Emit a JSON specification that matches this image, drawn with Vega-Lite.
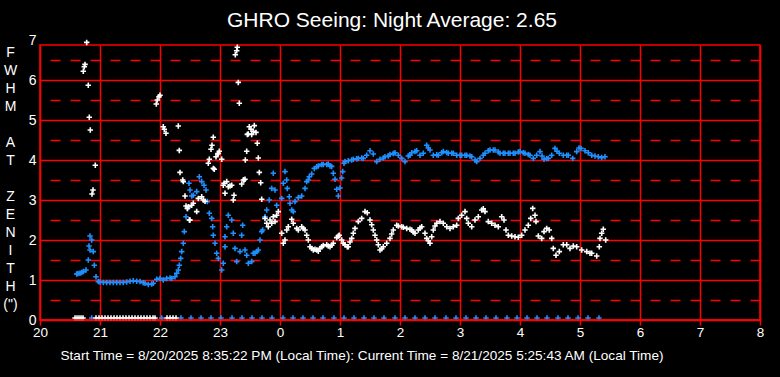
{
  "$schema": "https://vega.github.io/schema/vega-lite/v6.json",
  "autosize": {"type": "none"},
  "padding": {"left": 40, "top": 45, "right": 20, "bottom": 57},
  "width": 720,
  "height": 275,
  "background": "#000000",
  "config": {"view": {"stroke": "#ff0000", "strokeWidth": 1.5}},
  "title": {"text": "GHRO Seeing: Night Average: 2.65", "color": "#ffffff", "fontSize": 21, "font": "Liberation Sans", "fontWeight": "normal", "anchor": "middle", "frame": "group", "dx": -8, "dy": 32, "baseline": "alphabetic", "offset": 17},
  "data": {"values": [
    {"m":36.7,"v":1.15,"s":"b"},{"m":38,"v":1.16,"s":"b"},{"m":40,"v":1.17,"s":"b"},{"m":41.7,"v":1.19,"s":"b"},{"m":43.3,"v":1.21,"s":"b"},{"m":46,"v":1.25,"s":"b"},{"m":48.3,"v":1.5,"s":"b"},{"m":49,"v":1.85,"s":"b"},{"m":50,"v":2.1,"s":"b"},{"m":50,"v":1.75,"s":"b"},{"m":51.7,"v":2.0,"s":"b"},{"m":53.3,"v":1.71,"s":"b"},{"m":54.3,"v":1.37,"s":"b"},{"m":56,"v":1.08,"s":"b"},{"m":58.3,"v":0.96,"s":"b"},{"m":60,"v":0.95,"s":"b"},{"m":63.3,"v":0.94,"s":"b"},{"m":66.7,"v":0.94,"s":"b"},{"m":70,"v":0.94,"s":"b"},{"m":73.3,"v":0.94,"s":"b"},{"m":76.7,"v":0.94,"s":"b"},{"m":80,"v":0.94,"s":"b"},{"m":83.3,"v":0.94,"s":"b"},{"m":86.7,"v":0.95,"s":"b"},{"m":90,"v":0.97,"s":"b"},{"m":93.3,"v":0.98,"s":"b"},{"m":96.7,"v":0.97,"s":"b"},{"m":100,"v":0.96,"s":"b"},{"m":103.3,"v":0.93,"s":"b"},{"m":105,"v":0.92,"s":"b"},{"m":108.3,"v":0.89,"s":"b"},{"m":111.7,"v":0.9,"s":"b"},{"m":113.3,"v":0.92,"s":"b"},{"m":116.7,"v":1.02,"s":"b"},{"m":120,"v":1.04,"s":"b"},{"m":123.3,"v":1.0,"s":"b"},{"m":126.7,"v":1.04,"s":"b"},{"m":130,"v":1.05,"s":"b"},{"m":131.7,"v":1.04,"s":"b"},{"m":135,"v":1.08,"s":"b"},{"m":136.7,"v":1.17,"s":"b"},{"m":138.3,"v":1.25,"s":"b"},{"m":139.3,"v":1.37,"s":"b"},{"m":140.7,"v":1.54,"s":"b"},{"m":141.7,"v":1.71,"s":"b"},{"m":143.3,"v":1.92,"s":"b"},{"m":144.3,"v":2.21,"s":"b"},{"m":146,"v":2.58,"s":"b"},{"m":147.7,"v":2.79,"s":"b"},{"m":149,"v":3.42,"s":"b"},{"m":150,"v":3.25,"s":"b"},{"m":151.7,"v":3.1,"s":"b"},{"m":153.3,"v":3.12,"s":"b"},{"m":156.7,"v":3.21,"s":"b"},{"m":159.3,"v":3.58,"s":"b"},{"m":161.7,"v":3.46,"s":"b"},{"m":164,"v":3.37,"s":"b"},{"m":166,"v":3.25,"s":"b"},{"m":167.3,"v":2.96,"s":"b"},{"m":169.3,"v":2.67,"s":"b"},{"m":171.7,"v":2.54,"s":"b"},{"m":172.7,"v":2.33,"s":"b"},{"m":173.3,"v":2.12,"s":"b"},{"m":175,"v":1.92,"s":"b"},{"m":176.7,"v":1.67,"s":"b"},{"m":178.3,"v":1.54,"s":"b"},{"m":181.7,"v":1.25,"s":"b"},{"m":183.3,"v":1.42,"s":"b"},{"m":185,"v":1.83,"s":"b"},{"m":185,"v":2.08,"s":"b"},{"m":186.7,"v":2.33,"s":"b"},{"m":188.3,"v":2.62,"s":"b"},{"m":191.7,"v":2.5,"s":"b"},{"m":193.3,"v":2.17,"s":"b"},{"m":195,"v":1.79,"s":"b"},{"m":196.7,"v":1.46,"s":"b"},{"m":200,"v":1.71,"s":"b"},{"m":201.7,"v":2.12,"s":"b"},{"m":202.7,"v":2.37,"s":"b"},{"m":205,"v":1.75,"s":"b"},{"m":206.7,"v":1.62,"s":"b"},{"m":208.3,"v":1.42,"s":"b"},{"m":211.7,"v":1.46,"s":"b"},{"m":213.3,"v":1.67,"s":"b"},{"m":215,"v":1.67,"s":"b"},{"m":216.7,"v":1.71,"s":"b"},{"m":218.3,"v":1.75,"s":"b"},{"m":220,"v":2.0,"s":"b"},{"m":221.7,"v":2.21,"s":"b"},{"m":222.7,"v":2.25,"s":"b"},{"m":225,"v":2.58,"s":"b"},{"m":226.7,"v":2.75,"s":"b"},{"m":229.3,"v":3.0,"s":"b"},{"m":231.7,"v":3.29,"s":"b"},{"m":233.3,"v":3.67,"s":"b"},{"m":235,"v":3.25,"s":"b"},{"m":236.7,"v":2.87,"s":"b"},{"m":241.7,"v":3.04,"s":"b"},{"m":243.3,"v":3.42,"s":"b"},{"m":245,"v":3.71,"s":"b"},{"m":246.7,"v":3.5,"s":"b"},{"m":247.3,"v":3.29,"s":"b"},{"m":249.3,"v":3.08,"s":"b"},{"m":250,"v":2.92,"s":"b"},{"m":251.7,"v":2.75,"s":"b"},{"m":253.3,"v":2.71,"s":"b"},{"m":255,"v":2.96,"s":"b"},{"m":258.3,"v":3.06,"s":"b"},{"m":261.7,"v":3.1,"s":"b"},{"m":265,"v":3.29,"s":"b"},{"m":266.7,"v":3.46,"s":"b"},{"m":268.3,"v":3.5,"s":"b"},{"m":269.3,"v":3.58,"s":"b"},{"m":271.7,"v":3.65,"s":"b"},{"m":274.3,"v":3.79,"s":"b"},{"m":276.7,"v":3.83,"s":"b"},{"m":278.3,"v":3.85,"s":"b"},{"m":281.7,"v":3.89,"s":"b"},{"m":283.3,"v":3.89,"s":"b"},{"m":286.7,"v":3.89,"s":"b"},{"m":288.3,"v":3.9,"s":"b"},{"m":290,"v":3.85,"s":"b"},{"m":291.7,"v":3.84,"s":"b"},{"m":293.3,"v":3.67,"s":"b"},{"m":295,"v":3.52,"s":"b"},{"m":296.7,"v":3.27,"s":"b"},{"m":298.3,"v":3.1,"s":"b"},{"m":300,"v":3.3,"s":"b"},{"m":301.7,"v":3.55,"s":"b"},{"m":302.7,"v":3.71,"s":"b"},{"m":304,"v":3.92,"s":"b"},{"m":305,"v":3.96,"s":"b"},{"m":308.3,"v":3.98,"s":"b"},{"m":311.7,"v":4.0,"s":"b"},{"m":313.3,"v":4.02,"s":"b"},{"m":316.7,"v":4.03,"s":"b"},{"m":318.3,"v":4.04,"s":"b"},{"m":321.7,"v":4.05,"s":"b"},{"m":323.3,"v":4.04,"s":"b"},{"m":326.7,"v":4.12,"s":"b"},{"m":330,"v":4.23,"s":"b"},{"m":333.3,"v":4.15,"s":"b"},{"m":336.7,"v":3.96,"s":"b"},{"m":340,"v":4.02,"s":"b"},{"m":343.3,"v":4.05,"s":"b"},{"m":345,"v":4.08,"s":"b"},{"m":348.3,"v":4.1,"s":"b"},{"m":350,"v":4.14,"s":"b"},{"m":353.3,"v":4.16,"s":"b"},{"m":355,"v":4.18,"s":"b"},{"m":358.3,"v":4.12,"s":"b"},{"m":361.7,"v":4.04,"s":"b"},{"m":365,"v":3.96,"s":"b"},{"m":368.3,"v":4.1,"s":"b"},{"m":370,"v":4.12,"s":"b"},{"m":371.7,"v":4.18,"s":"b"},{"m":375,"v":4.21,"s":"b"},{"m":376.7,"v":4.23,"s":"b"},{"m":380,"v":4.12,"s":"b"},{"m":383.3,"v":4.17,"s":"b"},{"m":386.7,"v":4.37,"s":"b"},{"m":388.3,"v":4.3,"s":"b"},{"m":390,"v":4.25,"s":"b"},{"m":393.3,"v":4.12,"s":"b"},{"m":396.7,"v":4.13,"s":"b"},{"m":398.3,"v":4.12,"s":"b"},{"m":401.7,"v":4.18,"s":"b"},{"m":403.3,"v":4.21,"s":"b"},{"m":406.7,"v":4.19,"s":"b"},{"m":408.3,"v":4.17,"s":"b"},{"m":411.7,"v":4.17,"s":"b"},{"m":413.3,"v":4.17,"s":"b"},{"m":416.7,"v":4.12,"s":"b"},{"m":420,"v":4.12,"s":"b"},{"m":421.7,"v":4.12,"s":"b"},{"m":425,"v":4.12,"s":"b"},{"m":426.7,"v":4.12,"s":"b"},{"m":430,"v":4.1,"s":"b"},{"m":431.7,"v":4.08,"s":"b"},{"m":435,"v":4.0,"s":"b"},{"m":436.7,"v":3.96,"s":"b"},{"m":440,"v":4.04,"s":"b"},{"m":443.3,"v":4.12,"s":"b"},{"m":445,"v":4.17,"s":"b"},{"m":448.3,"v":4.23,"s":"b"},{"m":450,"v":4.25,"s":"b"},{"m":453.3,"v":4.25,"s":"b"},{"m":455,"v":4.25,"s":"b"},{"m":458.3,"v":4.2,"s":"b"},{"m":460,"v":4.17,"s":"b"},{"m":463.3,"v":4.17,"s":"b"},{"m":465,"v":4.17,"s":"b"},{"m":468.3,"v":4.17,"s":"b"},{"m":470,"v":4.17,"s":"b"},{"m":473.3,"v":4.17,"s":"b"},{"m":475,"v":4.17,"s":"b"},{"m":478.3,"v":4.2,"s":"b"},{"m":480,"v":4.21,"s":"b"},{"m":483.3,"v":4.18,"s":"b"},{"m":485,"v":4.17,"s":"b"},{"m":488.3,"v":4.14,"s":"b"},{"m":490,"v":4.12,"s":"b"},{"m":493.3,"v":4.04,"s":"b"},{"m":496.7,"v":4.12,"s":"b"},{"m":500,"v":4.21,"s":"b"},{"m":502,"v":4.1,"s":"b"},{"m":504,"v":4.02,"s":"b"},{"m":506.7,"v":4.04,"s":"b"},{"m":508.3,"v":4.04,"s":"b"},{"m":511.7,"v":4.12,"s":"b"},{"m":515,"v":4.29,"s":"b"},{"m":517,"v":4.22,"s":"b"},{"m":519.3,"v":4.17,"s":"b"},{"m":523.3,"v":4.12,"s":"b"},{"m":526.7,"v":4.12,"s":"b"},{"m":528.3,"v":4.12,"s":"b"},{"m":532.7,"v":4.04,"s":"b"},{"m":536.7,"v":4.21,"s":"b"},{"m":539,"v":4.3,"s":"b"},{"m":541,"v":4.29,"s":"b"},{"m":545,"v":4.23,"s":"b"},{"m":548.3,"v":4.18,"s":"b"},{"m":551.7,"v":4.12,"s":"b"},{"m":555,"v":4.1,"s":"b"},{"m":558.3,"v":4.08,"s":"b"},{"m":561.7,"v":4.06,"s":"b"},{"m":565,"v":4.08,"s":"b"},
    {"m":51.7,"v":0.05,"s":"b"},{"m":121.7,"v":0.05,"s":"b"},{"m":141,"v":0.05,"s":"b"},{"m":151,"v":0.05,"s":"b"},{"m":161,"v":0.05,"s":"b"},{"m":171,"v":0.05,"s":"b"},{"m":181,"v":0.05,"s":"b"},{"m":192,"v":0.05,"s":"b"},{"m":202,"v":0.05,"s":"b"},{"m":212,"v":0.05,"s":"b"},{"m":222,"v":0.05,"s":"b"},{"m":232,"v":0.05,"s":"b"},{"m":243,"v":0.05,"s":"b"},{"m":253,"v":0.05,"s":"b"},{"m":263,"v":0.05,"s":"b"},{"m":273,"v":0.05,"s":"b"},{"m":283,"v":0.05,"s":"b"},{"m":294,"v":0.05,"s":"b"},{"m":304,"v":0.05,"s":"b"},{"m":314,"v":0.05,"s":"b"},{"m":324,"v":0.05,"s":"b"},{"m":334,"v":0.05,"s":"b"},{"m":344,"v":0.05,"s":"b"},{"m":355,"v":0.05,"s":"b"},{"m":365,"v":0.05,"s":"b"},{"m":375,"v":0.05,"s":"b"},{"m":385,"v":0.05,"s":"b"},{"m":395,"v":0.05,"s":"b"},{"m":406,"v":0.05,"s":"b"},{"m":416,"v":0.05,"s":"b"},{"m":426,"v":0.05,"s":"b"},{"m":436,"v":0.05,"s":"b"},{"m":446,"v":0.05,"s":"b"},{"m":456,"v":0.05,"s":"b"},{"m":467,"v":0.05,"s":"b"},{"m":477,"v":0.05,"s":"b"},{"m":487,"v":0.05,"s":"b"},{"m":497,"v":0.05,"s":"b"},{"m":507,"v":0.05,"s":"b"},{"m":518,"v":0.05,"s":"b"},{"m":528,"v":0.05,"s":"b"},{"m":538,"v":0.05,"s":"b"},{"m":548,"v":0.05,"s":"b"},{"m":559,"v":0.05,"s":"b"},
    {"m":35,"v":0.05,"s":"w"},{"m":37,"v":0.05,"s":"w"},{"m":39,"v":0.05,"s":"w"},{"m":41,"v":0.05,"s":"w"},{"m":43,"v":0.05,"s":"w"},{"m":56,"v":0.05,"s":"w"},{"m":59,"v":0.05,"s":"w"},{"m":62,"v":0.05,"s":"w"},{"m":65,"v":0.05,"s":"w"},{"m":68,"v":0.05,"s":"w"},{"m":71,"v":0.05,"s":"w"},{"m":74,"v":0.05,"s":"w"},{"m":77,"v":0.05,"s":"w"},{"m":80,"v":0.05,"s":"w"},{"m":83,"v":0.05,"s":"w"},{"m":86,"v":0.05,"s":"w"},{"m":89,"v":0.05,"s":"w"},{"m":92,"v":0.05,"s":"w"},{"m":95,"v":0.05,"s":"w"},{"m":98,"v":0.05,"s":"w"},{"m":101,"v":0.05,"s":"w"},{"m":104,"v":0.05,"s":"w"},{"m":107,"v":0.05,"s":"w"},{"m":110,"v":0.05,"s":"w"},{"m":113,"v":0.05,"s":"w"},{"m":115,"v":0.05,"s":"w"},{"m":127,"v":0.05,"s":"w"},{"m":130,"v":0.05,"s":"w"},{"m":133,"v":0.05,"s":"w"},{"m":136,"v":0.05,"s":"w"},
    {"m":43.3,"v":6.22,"s":"w"},{"m":44.3,"v":6.33,"s":"w"},{"m":45,"v":6.39,"s":"w"},{"m":46.7,"v":6.94,"s":"w"},{"m":48.3,"v":5.87,"s":"w"},{"m":49.3,"v":5.07,"s":"w"},{"m":50.3,"v":4.75,"s":"w"},{"m":52,"v":3.15,"s":"w"},{"m":53,"v":3.25,"s":"w"},{"m":55.3,"v":3.87,"s":"w"},{"m":116.3,"v":5.4,"s":"w"},{"m":117.3,"v":5.5,"s":"w"},{"m":119,"v":5.58,"s":"w"},{"m":120,"v":5.62,"s":"w"},{"m":123.3,"v":4.83,"s":"w"},{"m":124.3,"v":4.77,"s":"w"},{"m":126,"v":4.67,"s":"w"},{"m":138.3,"v":4.85,"s":"w"},{"m":139.3,"v":4.24,"s":"w"},{"m":140,"v":3.69,"s":"w"},{"m":142.7,"v":3.5,"s":"w"},{"m":143.3,"v":3.46,"s":"w"},{"m":145,"v":3.1,"s":"w"},{"m":146,"v":2.85,"s":"w"},{"m":147.3,"v":2.79,"s":"w"},{"m":148.3,"v":2.83,"s":"w"},{"m":149.3,"v":2.5,"s":"w"},{"m":150,"v":2.5,"s":"w"},{"m":151.7,"v":2.87,"s":"w"},{"m":153.3,"v":2.92,"s":"w"},{"m":156.7,"v":2.71,"s":"w"},{"m":158.3,"v":3.04,"s":"w"},{"m":161.7,"v":3.08,"s":"w"},{"m":163.3,"v":3.0,"s":"w"},{"m":165,"v":2.97,"s":"w"},{"m":168.3,"v":3.92,"s":"w"},{"m":169.3,"v":4.02,"s":"w"},{"m":171,"v":4.27,"s":"w"},{"m":172,"v":4.37,"s":"w"},{"m":173.3,"v":4.57,"s":"w"},{"m":173.3,"v":3.79,"s":"w"},{"m":174.3,"v":3.77,"s":"w"},{"m":176,"v":4.08,"s":"w"},{"m":177.7,"v":4.15,"s":"w"},{"m":178.3,"v":4.17,"s":"w"},{"m":179.3,"v":4.22,"s":"w"},{"m":181.7,"v":4.02,"s":"w"},{"m":183.3,"v":3.37,"s":"w"},{"m":184,"v":3.42,"s":"w"},{"m":185,"v":3.17,"s":"w"},{"m":186.7,"v":3.46,"s":"w"},{"m":188.3,"v":3.33,"s":"w"},{"m":190,"v":3.35,"s":"w"},{"m":191.7,"v":3.37,"s":"w"},{"m":193.3,"v":3.0,"s":"w"},{"m":194,"v":3.12,"s":"w"},{"m":195.3,"v":6.63,"s":"w"},{"m":196.7,"v":6.73,"s":"w"},{"m":197.3,"v":6.82,"s":"w"},{"m":198.3,"v":5.94,"s":"w"},{"m":199.3,"v":5.42,"s":"w"},{"m":201.7,"v":3.4,"s":"w"},{"m":203.3,"v":3.5,"s":"w"},{"m":204,"v":3.5,"s":"w"},{"m":205,"v":3.52,"s":"w"},{"m":205.3,"v":4.0,"s":"w"},{"m":206.7,"v":4.22,"s":"w"},{"m":207.3,"v":4.64,"s":"w"},{"m":208.3,"v":4.65,"s":"w"},{"m":209.3,"v":4.83,"s":"w"},{"m":211,"v":4.77,"s":"w"},{"m":211.7,"v":4.64,"s":"w"},{"m":213.3,"v":4.72,"s":"w"},{"m":214.3,"v":4.86,"s":"w"},{"m":216,"v":4.69,"s":"w"},{"m":217.3,"v":4.42,"s":"w"},{"m":218.3,"v":4.05,"s":"w"},{"m":219.3,"v":3.69,"s":"w"},{"m":220.7,"v":3.43,"s":"w"},{"m":221.7,"v":3.02,"s":"w"},{"m":225,"v":2.54,"s":"w"},{"m":226.7,"v":2.42,"s":"w"},{"m":228.3,"v":2.33,"s":"w"},{"m":230,"v":2.5,"s":"w"},{"m":231.7,"v":2.42,"s":"w"},{"m":233.3,"v":2.58,"s":"w"},{"m":235,"v":2.46,"s":"w"},{"m":236.7,"v":2.62,"s":"w"},{"m":238.3,"v":2.71,"s":"w"},{"m":241.7,"v":2.17,"s":"w"},{"m":243.3,"v":1.92,"s":"w"},{"m":245,"v":2.0,"s":"w"},{"m":246.7,"v":2.25,"s":"w"},{"m":248.3,"v":2.33,"s":"w"},{"m":251.7,"v":2.52,"s":"w"},{"m":253.3,"v":2.42,"s":"w"},{"m":256.7,"v":2.29,"s":"w"},{"m":258.3,"v":2.25,"s":"w"},{"m":261.7,"v":2.33,"s":"w"},{"m":263.3,"v":2.29,"s":"w"},{"m":265,"v":2.25,"s":"w"},{"m":266.7,"v":2.12,"s":"w"},{"m":268.3,"v":2.0,"s":"w"},{"m":270,"v":1.83,"s":"w"},{"m":271.7,"v":1.79,"s":"w"},{"m":273.3,"v":1.75,"s":"w"},{"m":275,"v":1.77,"s":"w"},{"m":276.7,"v":1.75,"s":"w"},{"m":278.3,"v":1.72,"s":"w"},{"m":280,"v":1.79,"s":"w"},{"m":281.7,"v":1.83,"s":"w"},{"m":283.3,"v":1.86,"s":"w"},{"m":286.7,"v":1.88,"s":"w"},{"m":288.3,"v":1.85,"s":"w"},{"m":290,"v":1.83,"s":"w"},{"m":291.7,"v":1.87,"s":"w"},{"m":293.3,"v":1.92,"s":"w"},{"m":296.7,"v":2.06,"s":"w"},{"m":298.3,"v":2.1,"s":"w"},{"m":299.3,"v":2.12,"s":"w"},{"m":301.7,"v":2.0,"s":"w"},{"m":303.3,"v":1.92,"s":"w"},{"m":305,"v":1.88,"s":"w"},{"m":307.3,"v":1.83,"s":"w"},{"m":308.3,"v":1.83,"s":"w"},{"m":310,"v":1.95,"s":"w"},{"m":311.7,"v":2.04,"s":"w"},{"m":313.3,"v":2.17,"s":"w"},{"m":315,"v":2.29,"s":"w"},{"m":318.3,"v":2.46,"s":"w"},{"m":321.7,"v":2.54,"s":"w"},{"m":325,"v":2.71,"s":"w"},{"m":327.3,"v":2.68,"s":"w"},{"m":330,"v":2.5,"s":"w"},{"m":331.7,"v":2.38,"s":"w"},{"m":333.3,"v":2.25,"s":"w"},{"m":335,"v":2.12,"s":"w"},{"m":336.7,"v":2.0,"s":"w"},{"m":338.3,"v":1.88,"s":"w"},{"m":340,"v":1.75,"s":"w"},{"m":341.7,"v":1.78,"s":"w"},{"m":343.3,"v":1.83,"s":"w"},{"m":346.7,"v":1.92,"s":"w"},{"m":350,"v":2.04,"s":"w"},{"m":351.7,"v":2.15,"s":"w"},{"m":353.3,"v":2.25,"s":"w"},{"m":356.7,"v":2.37,"s":"w"},{"m":358.3,"v":2.35,"s":"w"},{"m":361.7,"v":2.33,"s":"w"},{"m":363.3,"v":2.32,"s":"w"},{"m":366.7,"v":2.29,"s":"w"},{"m":370,"v":2.27,"s":"w"},{"m":371.7,"v":2.25,"s":"w"},{"m":373.3,"v":2.2,"s":"w"},{"m":375,"v":2.17,"s":"w"},{"m":378.3,"v":2.25,"s":"w"},{"m":380,"v":2.3,"s":"w"},{"m":381.7,"v":2.33,"s":"w"},{"m":385,"v":2.17,"s":"w"},{"m":386.7,"v":2.04,"s":"w"},{"m":388.3,"v":1.98,"s":"w"},{"m":390,"v":1.92,"s":"w"},{"m":391.7,"v":2.08,"s":"w"},{"m":393.3,"v":2.25,"s":"w"},{"m":395,"v":2.35,"s":"w"},{"m":396.7,"v":2.42,"s":"w"},{"m":400,"v":2.46,"s":"w"},{"m":403.3,"v":2.42,"s":"w"},{"m":406.7,"v":2.33,"s":"w"},{"m":410,"v":2.29,"s":"w"},{"m":413.3,"v":2.33,"s":"w"},{"m":416.7,"v":2.37,"s":"w"},{"m":418.3,"v":2.54,"s":"w"},{"m":421.7,"v":2.62,"s":"w"},{"m":425,"v":2.71,"s":"w"},{"m":426.7,"v":2.54,"s":"w"},{"m":428.3,"v":2.42,"s":"w"},{"m":431.7,"v":2.33,"s":"w"},{"m":435,"v":2.5,"s":"w"},{"m":438.3,"v":2.58,"s":"w"},{"m":441.7,"v":2.75,"s":"w"},{"m":443.3,"v":2.78,"s":"w"},{"m":445,"v":2.71,"s":"w"},{"m":448.3,"v":2.46,"s":"w"},{"m":451.7,"v":2.42,"s":"w"},{"m":455,"v":2.37,"s":"w"},{"m":458.3,"v":2.33,"s":"w"},{"m":461.7,"v":2.58,"s":"w"},{"m":464,"v":2.5,"s":"w"},{"m":466,"v":2.25,"s":"w"},{"m":468.3,"v":2.12,"s":"w"},{"m":471.7,"v":2.1,"s":"w"},{"m":475,"v":2.08,"s":"w"},{"m":478.3,"v":2.07,"s":"w"},{"m":481.7,"v":2.12,"s":"w"},{"m":485,"v":2.25,"s":"w"},{"m":488.3,"v":2.37,"s":"w"},{"m":490.7,"v":2.54,"s":"w"},{"m":492.7,"v":2.79,"s":"w"},{"m":495,"v":2.62,"s":"w"},{"m":496,"v":2.46,"s":"w"},{"m":498.3,"v":2.1,"s":"w"},{"m":501.7,"v":2.04,"s":"w"},{"m":504,"v":2.21,"s":"w"},{"m":506.7,"v":2.29,"s":"w"},{"m":509.3,"v":2.25,"s":"w"},{"m":511.7,"v":2.04,"s":"w"},{"m":513.3,"v":1.79,"s":"w"},{"m":516,"v":1.62,"s":"w"},{"m":519.3,"v":1.71,"s":"w"},{"m":523.3,"v":1.88,"s":"w"},{"m":526.7,"v":1.88,"s":"w"},{"m":530,"v":1.79,"s":"w"},{"m":533.3,"v":1.85,"s":"w"},{"m":536.7,"v":1.83,"s":"w"},{"m":541.7,"v":1.75,"s":"w"},{"m":546.7,"v":1.71,"s":"w"},{"m":550,"v":1.67,"s":"w"},{"m":551.7,"v":1.67,"s":"w"},{"m":556.7,"v":1.6,"s":"w"},{"m":559.3,"v":1.83,"s":"w"},{"m":560,"v":2.04,"s":"w"},{"m":561.7,"v":2.17,"s":"w"},{"m":563.3,"v":2.27,"s":"w"},{"m":565.7,"v":2.0,"s":"w"}
  ]},
  "layer": [
    {
      "mark": {"type": "point", "shape": "M-1,0H1M0,-1V1", "filled": false, "size": 30, "strokeWidth": 1.6, "opacity": 1},
      "encoding": {
        "x": {"field": "m", "type": "quantitative", "scale": {"domain": [0, 720], "nice": false, "zero": false},
          "axis": {"values": [0,60,120,180,240,300,360,420,480,540,600,660,720], "labelExpr": "format((20 + datum.value / 60) % 24, 'd')",
            "grid": true, "gridColor": "#ff0000", "gridWidth": 1.5, "gridOpacity": 1, "domain": false, "ticks": false, "tickSize": 0, "labelPadding": 5,
            "labelColor": "#ffffff", "labelFont": "Liberation Sans", "labelFontSize": 13.5, "labelOverlap": false, "labelFlush": false, "labelBound": false,
            "title": "Start Time = 8/20/2025 8:35:22 PM (Local Time): Current Time = 8/21/2025 5:25:43 AM (Local Time)",
            "titleColor": "#ffffff", "titleFont": "Liberation Sans", "titleFontSize": 13.6, "titleFontWeight": "normal", "titleX": 321.5, "titleY": 35, "titleAlign": "center", "titleBaseline": "middle"}},
        "y": {"field": "v", "type": "quantitative", "scale": {"domain": [0, 7], "range": [275, -5], "nice": false, "zero": true},
          "axis": {"values": [0,1,2,3,4,5,6,7], "format": "d",
            "grid": true, "gridColor": "#ff0000", "gridWidth": 1.5,
            "gridOpacity": {"condition": {"test": "datum.value > 6.9", "value": 0}, "value": 1},
            "domain": false, "ticks": false, "tickSize": 0, "labelPadding": 4,
            "labelColor": "#ffffff", "labelFont": "Liberation Sans", "labelFontSize": 14, "labelOverlap": false, "labelFlush": false, "labelBound": false,
            "title": ["F", "W", "H", "M", "\u200b", "A", "T", "\u200b", "Z", "E", "N", "I", "T", "H", "(\")"],
            "titleColor": "#ffffff", "titleFont": "Liberation Sans", "titleFontSize": 14, "titleFontWeight": "normal", "titleAngle": 0, "titleAlign": "center", "titleBaseline": "alphabetic", "titleX": -30, "titleY": 11, "titleLineHeight": 18}},
        "color": {"field": "s", "type": "nominal", "scale": {"domain": ["b", "w"], "range": ["#1e90ff", "#ffffff"]}, "legend": null}
      }
    },
    {
      "data": {"values": [{}]},
      "mark": {"type": "rule", "color": "#ff0000", "strokeWidth": 1.5},
      "encoding": {
        "y": {"datum": 0, "type": "quantitative",
          "axis": {"orient": "right", "values": [0.5,1.5,2.5,3.5,4.5,5.5,6.5], "grid": true, "gridColor": "#ff0000", "gridWidth": 1.5, "gridDash": [10, 10],
            "labels": false, "domain": false, "ticks": false, "title": null}}
      }
    }
  ],
  "resolve": {"axis": {"y": "independent"}}
}
